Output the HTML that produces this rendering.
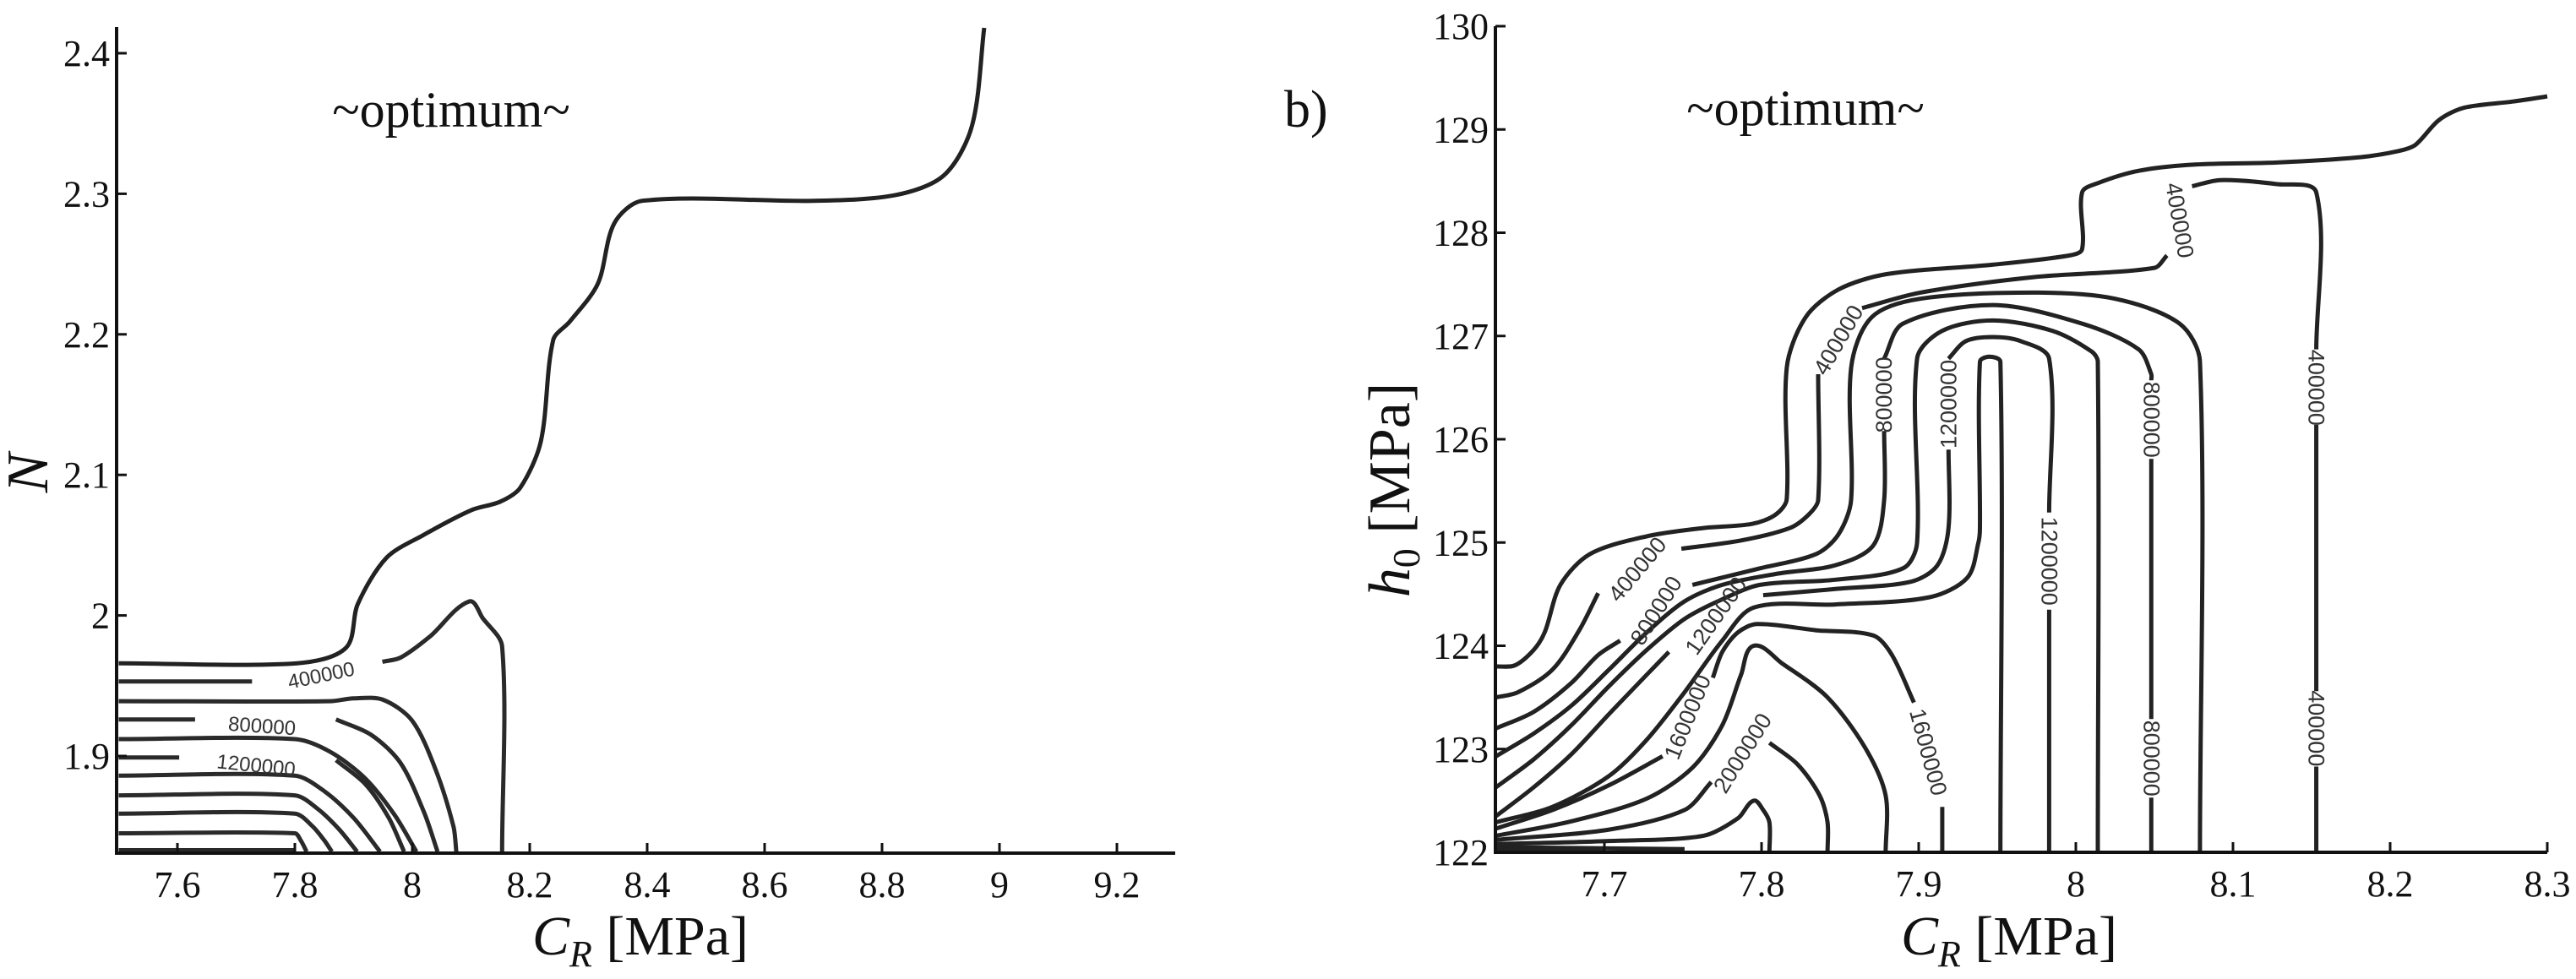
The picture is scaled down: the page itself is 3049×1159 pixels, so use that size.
<!DOCTYPE html>
<html><head><meta charset="utf-8"><style>
html,body{margin:0;padding:0;background:#fff;}
svg{display:block;}
.tick{font-family:"Liberation Serif",serif;font-size:44px;fill:#111;}
.ttl{font-family:"Liberation Serif",serif;fill:#111;}
.clab{font-family:"Liberation Sans",sans-serif;fill:#333;}
</style></head><body>
<svg id="fig" width="3049" height="1159" viewBox="0 0 3049 1159" xmlns="http://www.w3.org/2000/svg">
<rect width="3049" height="1159" fill="#fff"/>
<g id="left"></g>
<g id="right"></g>
<text class="ttl" x="534" y="150" font-size="60" text-anchor="middle">~optimum~</text>
<text class="ttl" x="2137" y="148" font-size="60" text-anchor="middle">~optimum~</text>
<text class="ttl" x="1520" y="150" font-size="62">b)</text>
<text class="ttl" x="758" y="1130" font-size="66" text-anchor="middle"><tspan font-style="italic">C</tspan><tspan font-style="italic" font-size="44" dy="14">R</tspan><tspan dy="-14"> [MPa]</tspan></text>
<text class="ttl" x="2378" y="1130" font-size="66" text-anchor="middle"><tspan font-style="italic">C</tspan><tspan font-style="italic" font-size="44" dy="14">R</tspan><tspan dy="-14"> [MPa]</tspan></text>
<text class="ttl" transform="translate(56,560) rotate(-90)" font-size="70" font-style="italic" text-anchor="middle">N</text>
<text class="ttl" transform="translate(1668,580) rotate(-90)" font-size="70" text-anchor="middle"><tspan font-style="italic">h</tspan><tspan font-size="46" dy="12">0</tspan><tspan dy="-12"> [MPa]</tspan></text>
</svg>
<script>
// ===== Panel A data =====
const aXTicks = [7.6,7.8,8.0,8.2,8.4,8.6,8.8,9.0,9.2];
const aXTickLabels = ["7.6","7.8","8","8.2","8.4","8.6","8.8","9","9.2"];
const aYTicks = [1.9,2.0,2.1,2.2,2.3,2.4];
const aYTickLabels = ["1.9","2","2.1","2.2","2.3","2.4"];
const aOptimum = [[7.5,1.966],[7.804,1.966],[7.887,1.977],[7.907,2.008],[7.956,2.041],[8.018,2.057],[8.101,2.075],[8.150,2.081],[8.184,2.091],[8.219,2.124],[8.240,2.196],[8.268,2.209],[8.316,2.236],[8.344,2.279],[8.392,2.295],[8.683,2.295],[8.822,2.299],[8.905,2.313],[8.953,2.348],[8.974,2.418]];
const aC0 = [[7.5,1.833],[7.8,1.833]];
const aC1 = [[7.5,1.845],[7.8,1.845],[7.81,1.840],[7.82,1.832]];
const aC2 = [[7.5,1.859],[7.8,1.859],[7.83,1.850],[7.85,1.840],[7.863,1.832]];
const aC3 = [[7.5,1.872],[7.8,1.872],[7.84,1.862],[7.875,1.848],[7.906,1.832]];
const aC4 = [[7.5,1.886],[7.8,1.886],[7.85,1.875],[7.9,1.856],[7.945,1.832]];
const aC5a = [[7.5,1.899],[7.603,1.899]];
const aC5b = [[7.87,1.897],[7.92,1.880],[7.96,1.856],[7.986,1.832]];
const aC6 = [[7.5,1.912],[7.8,1.912],[7.86,1.903],[7.92,1.884],[7.97,1.858],[8.007,1.832]];
const aC7a = [[7.5,1.926],[7.63,1.926]];
const aC7b = [[7.87,1.926],[7.93,1.915],[7.98,1.895],[8.02,1.86],[8.043,1.832]];
const aC8 = [[7.5,1.939],[7.86,1.939],[7.90,1.941],[7.95,1.940],[8.0,1.925],[8.04,1.89],[8.07,1.85],[8.075,1.832]];
const aC9a = [[7.5,1.953],[7.727,1.953]];
const aC9b = [[7.949,1.967],[7.98,1.970],[8.03,1.985],[8.097,2.010],[8.12,1.998],[8.153,1.978],[8.153,1.832]];
const aLabels = [["400000",7.845,1.957,-12],["800000",7.744,1.921,4],["1200000",7.734,1.893,6]];

// ===== Panel B data =====
const bXTicks = [7.7,7.8,7.9,8.0,8.1,8.2,8.3];
const bXTickLabels = ["7.7","7.8","7.9","8","8.1","8.2","8.3"];
const bYTicks = [122,123,124,125,126,127,128,129,130];
const bYTickLabels = ["122","123","124","125","126","127","128","129","130"];
const bC1 = [[7.631,123.80],[7.643,123.81],[7.655,123.96],[7.662,124.13],[7.672,124.59],[7.691,124.89],[7.727,125.06],[7.763,125.14],[7.794,125.18],[7.809,125.27],[7.816,125.42],[7.816,126.69],[7.828,127.18],[7.849,127.45],[7.880,127.60],[7.947,127.69],[7.996,127.78],[8.004,127.84],[8.004,128.39],[8.014,128.48],[8.040,128.60],[8.076,128.66],[8.128,128.68],[8.180,128.73],[8.205,128.79],[8.216,128.85],[8.231,129.09],[8.247,129.21],[8.278,129.27],[8.300,129.32]];
const bC2a = [[7.631,123.50],[7.645,123.55],[7.667,123.77],[7.684,124.15],[7.696,124.51]];
const bC2b = [[7.749,124.94],[7.787,125.02],[7.818,125.14],[7.830,125.27],[7.836,125.41],[7.836,126.63]];
const bC2c = [[7.864,127.27],[7.901,127.42],[7.973,127.57],[8.050,127.66],[8.058,127.78]];
const bC2d = [[8.074,128.45],[8.092,128.51],[8.128,128.47],[8.153,128.39],[8.153,126.87]];
const bC2e = [[8.153,126.14],[8.153,123.56]];
const bC2f = [[8.153,122.83],[8.153,122.0]];
const bC3a = [[7.631,123.20],[7.655,123.36],[7.679,123.64],[7.696,123.91],[7.710,124.05]];
const bC3b = [[7.756,124.59],[7.799,124.75],[7.835,124.89],[7.849,125.08],[7.857,125.41],[7.857,126.69],[7.870,127.18],[7.901,127.36],[7.973,127.42],[8.025,127.36],[8.066,127.12],[8.079,126.75],[8.079,122.0]];
const bC4a = [[7.631,122.93],[7.655,123.15],[7.679,123.42],[7.703,123.77],[7.727,124.13],[7.751,124.43],[7.775,124.59],[7.811,124.70],[7.847,124.78],[7.871,124.97],[7.878,125.41],[7.878,126.08]];
const bC4b = [[7.878,126.78],[7.890,127.12],[7.947,127.30],[8.004,127.12],[8.040,126.87],[8.048,126.63],[8.048,126.57]];
const bC4c = [[8.048,125.81],[8.048,123.29]];
const bC4d = [[8.048,122.53],[8.048,122.0]];
const bC5 = [[7.631,122.63],[7.655,122.90],[7.679,123.23],[7.703,123.61],[7.727,123.96],[7.751,124.26],[7.775,124.45],[7.799,124.59],[7.847,124.64],[7.890,124.75],[7.899,125.00],[7.899,126.78],[7.915,127.05],[7.947,127.15],[7.985,127.05],[8.010,126.85],[8.014,126.75],[8.014,122.0]];
const bC6a = [[7.631,122.35],[7.655,122.63],[7.679,122.95],[7.703,123.34],[7.727,123.72],[7.741,123.94]];
const bC6b = [[7.801,124.49],[7.847,124.55],[7.895,124.62],[7.912,124.78],[7.919,125.14],[7.919,125.9]];
const bC6c = [[7.919,126.78],[7.930,126.95],[7.947,126.99],[7.965,126.95],[7.983,126.78],[7.983,125.29]];
const bC6d = [[7.983,124.35],[7.983,122.0]];
const bC7 = [[7.631,122.29],[7.667,122.44],[7.703,122.74],[7.727,123.09],[7.751,123.55],[7.775,124.05],[7.795,124.37],[7.847,124.40],[7.907,124.47],[7.931,124.66],[7.938,125.0],[7.939,125.14],[7.939,126.75],[7.945,126.80],[7.952,126.75],[7.952,122.0]];
const bC8a = [[7.631,122.23],[7.667,122.41],[7.703,122.65],[7.737,122.93]];
const bC8b = [[7.769,123.69],[7.775,123.94],[7.785,124.13],[7.797,124.21],[7.835,124.15],[7.871,124.10],[7.883,123.91],[7.897,123.45]];
const bC8c = [[7.915,122.44],[7.915,122.0]];
const bC9 = [[7.631,122.16],[7.679,122.30],[7.727,122.52],[7.756,122.82],[7.775,123.23],[7.787,123.72],[7.795,124.00],[7.813,123.83],[7.842,123.50],[7.866,123.01],[7.879,122.55],[7.879,122.0]];
const bC10a = [[7.631,122.12],[7.703,122.22],[7.751,122.41],[7.768,122.68]];
const bC10b = [[7.805,123.06],[7.823,122.85],[7.837,122.55],[7.842,122.29],[7.842,122.0]];
const bC11 = [[7.631,122.08],[7.703,122.11],[7.763,122.16],[7.785,122.33],[7.795,122.50],[7.801,122.41],[7.805,122.29],[7.805,122.0]];
const bC12 = [[7.631,122.05],[7.751,122.03]];
const bC13 = [[7.631,122.03],[7.70,122.02]];
const bLabels = [["400000",7.721,124.74,-50],["800000",7.733,124.34,-58],["1200000",7.771,124.29,-55],["1600000",7.753,123.31,-68],["2000000",7.788,122.96,-58],["400000",7.849,126.96,-60],["400000",8.066,128.12,80],["400000",8.153,126.5,90],["400000",8.153,123.2,90],["800000",7.878,126.43,-90],["800000",8.048,126.19,90],["800000",8.048,122.91,90],["1200000",7.919,126.34,-90],["1200000",7.983,124.82,90],["1600000",7.906,122.97,75]];

const NS="http://www.w3.org/2000/svg";
function aX(v){return 210+(v-7.6)*695;}
function aY(v){return 63+(2.4-v)*1664;}
function bX(v){return 1899+(v-7.7)*1860;}
function bY(v){return 1009-(v-122)*122.25;}

function smooth(pts){
  let d="M"+pts[0][0].toFixed(1)+","+pts[0][1].toFixed(1);
  if(pts.length<3){for(let i=1;i<pts.length;i++)d+=" L"+pts[i][0].toFixed(1)+","+pts[i][1].toFixed(1);return d;}
  function tan(i){
    const a=pts[Math.max(i-1,0)],b=pts[Math.min(i+1,pts.length-1)];
    const dx=b[0]-a[0],dy=b[1]-a[1],l=Math.hypot(dx,dy)||1;return [dx/l,dy/l];
  }
  for(let i=0;i<pts.length-1;i++){
    const p1=pts[i],p2=pts[i+1];
    const L=Math.hypot(p2[0]-p1[0],p2[1]-p1[1])*0.3;
    const t1=tan(i),t2=tan(i+1);
    const c1=[p1[0]+t1[0]*L,p1[1]+t1[1]*L];
    const c2=[p2[0]-t2[0]*L,p2[1]-t2[1]*L];
    d+=" C"+c1[0].toFixed(1)+","+c1[1].toFixed(1)+" "+c2[0].toFixed(1)+","+c2[1].toFixed(1)+" "+p2[0].toFixed(1)+","+p2[1].toFixed(1);
  }
  return d;
}
function mk(tag,attrs,parent){const e=document.createElementNS(NS,tag);for(const k in attrs)e.setAttribute(k,attrs[k]);parent.appendChild(e);return e;}

function drawAxes(g,fx,fy,xt,xl,yt,yl,x0,x1,y0,y1,name){
  const ax=mk("path",{d:`M${x0},${y1} L${x0},${y0} L${x1},${y0}`,fill:"none",stroke:"#111","stroke-width":4},g);
  
  
  xt.forEach((v,i)=>{
    const x=fx(v);
    const t=mk("line",{x1:x,x2:x,y1:y0,y2:y0-12,stroke:"#111","stroke-width":3},g);
    
    
    const l=mk("text",{x:x,y:y0+52,"text-anchor":"middle",class:"tick"},g);
    l.textContent=xl[i];
    
    
  });
  yt.forEach((v,i)=>{
    const y=fy(v);
    const t=mk("line",{x1:x0,x2:x0+12,y1:y,y2:y,stroke:"#111","stroke-width":3},g);
    
    
    const l=mk("text",{x:x0-8,y:y+15,"text-anchor":"end",class:"tick"},g);
    l.textContent=yl[i];
    
    
  });
}
function drawLines(g,fx,fy,list,name,col){
  list.forEach(c=>{
    const pts=c.map(p=>[fx(p[0]),fy(p[1])]);
    const e=mk("path",{d:smooth(pts),fill:"none",stroke:col,"stroke-width":5,"stroke-linejoin":"round","stroke-linecap":"butt"},g);
    
    
  });
}
function drawLabels(g,fx,fy,labs,size,name){
  labs.forEach(l=>{
    const x=fx(l[1]),y=fy(l[2]);
    const t=mk("text",{x:x,y:y,"text-anchor":"middle","dominant-baseline":"central","font-size":size,class:"clab",transform:`rotate(${l[3]} ${x} ${y})`},g);
    t.textContent=l[0];
    
    
  });
}
const gl=document.getElementById("left"), gr=document.getElementById("right");
drawLines(gl,aX,aY,[aOptimum],"panel-a-optimum","#222");
drawLines(gl,aX,aY,[aC0,aC1,aC2,aC3,aC4,aC5a,aC5b,aC6,aC7a,aC7b,aC8,aC9a,aC9b],"panel-a","#2a2a2a");
drawLabels(gl,aX,aY,aLabels,24,"panel-a");
drawAxes(gl,aX,aY,aXTicks,aXTickLabels,aYTicks,aYTickLabels,138,1391,1010,32,"panel-a");
drawLines(gr,bX,bY,[bC1],"panel-b-optimum","#222");
drawLines(gr,bX,bY,[bC2a,bC2b,bC2c,bC2d,bC2e,bC2f,bC3a,bC3b,bC4a,bC4b,bC4c,bC4d,bC5,bC6a,bC6b,bC6c,bC6d,bC7,bC8a,bC8b,bC8c,bC9,bC10a,bC10b,bC11,bC12,bC13],"panel-b","#222");
drawLabels(gr,bX,bY,bLabels,27,"panel-b");
drawAxes(gr,bX,bY,bXTicks,bXTickLabels,bYTicks,bYTickLabels,1770,3015,1009,31,"panel-b");
</script>
</body></html>
